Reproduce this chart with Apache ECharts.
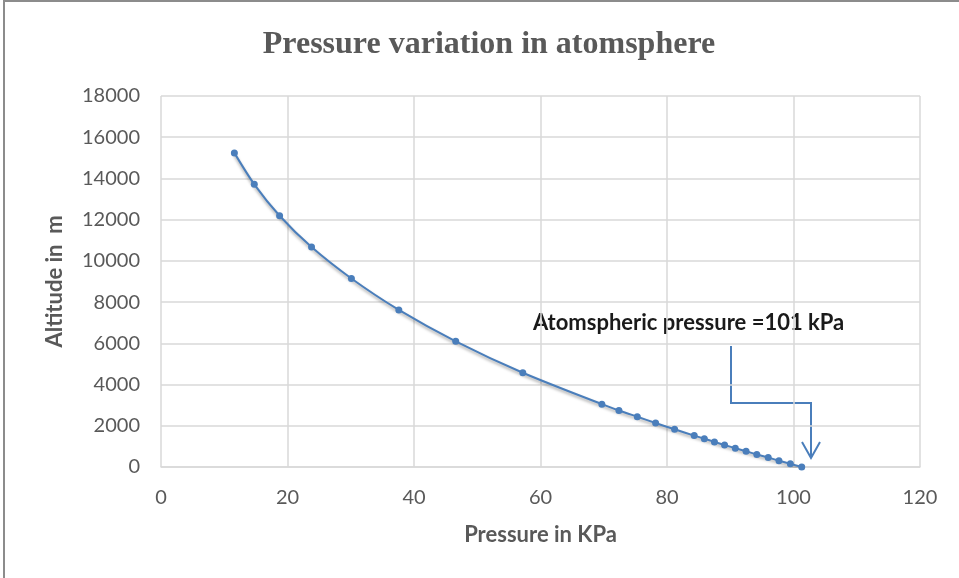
<!DOCTYPE html>
<html lang="en">
<head>
    <meta charset="UTF-8">
    <title>Pressure variation in atomsphere</title>
    <script src="https://cdn.jsdelivr.net/npm/echarts@6/dist/echarts.min.js"></script>
    <style>
        html, body { margin: 0; padding: 0; background: #fff; }
    </style>
</head>
<body>
<div id="chart" style="width: 959px;height:578px;"></div>
<script>
    // pressure (kPa) and altitude (m)
    const pressure = [11.6, 14.75, 18.75, 23.8, 30.1, 37.6, 46.6, 57.2, 69.7, 72.4, 75.3, 78.2,
        81.2, 84.3, 85.9, 87.5, 89.1, 90.8, 92.5, 94.2, 96.0, 97.7, 99.5, 101.3];
    const altitude = [15240, 13716, 12192, 10668, 9144, 7620, 6096, 4572, 3048, 2743, 2438, 2134,
        1829, 1524, 1372, 1219, 1067, 914, 762, 610, 457, 305, 152, 0];
    const xTicks = [0, 20, 40, 60, 80, 100, 120];
    const yTicks = [0, 2000, 4000, 6000, 8000, 10000, 12000, 14000, 16000, 18000];

    const blue = '#4a7ebb';
    const grey = '#595959';
    const font = 'Lato, "Open Sans", sans-serif';

    let myChart = echarts.init(document.getElementById('chart')),
        option = {
            animation: false,
            title: {
                text: 'Pressure variation in atomsphere',
                left: 484,
                textAlign: 'center',
                top: 24,
                textStyle: {
                    fontFamily: '"Liberation Serif", serif',
                    fontWeight: 'bold',
                    fontSize: 32,
                    color: grey
                }
            },
            grid: {left: 161, right: 39, top: 96, bottom: 111},
            xAxis: {
                type: 'value',
                min: xTicks[0],
                max: xTicks[xTicks.length - 1],
                interval: 20,
                name: 'Pressure in KPa',
                nameLocation: 'middle',
                nameGap: 57,
                nameTextStyle: {fontFamily: font, fontWeight: 'bold', fontSize: 22, color: grey},
                axisLine: {lineStyle: {color: '#d9d9d9', width: 1.5}},
                axisTick: {show: false},
                axisLabel: {margin: 21, fontFamily: font, fontSize: 20, color: grey},
                splitLine: {lineStyle: {color: '#d9d9d9', width: 1.5}}
            },
            yAxis: {
                type: 'value',
                min: yTicks[0],
                max: yTicks[yTicks.length - 1],
                interval: 2000,
                name: 'Altitude in  m',
                nameLocation: 'middle',
                nameGap: 95,
                nameTextStyle: {fontFamily: font, fontWeight: 'bold', fontSize: 22, color: grey},
                axisLine: {show: false},
                axisTick: {show: false},
                axisLabel: {margin: 21, fontFamily: font, fontSize: 20, color: grey, formatter: v => String(v)},
                splitLine: {lineStyle: {color: '#d9d9d9', width: 1.5}}
            },
            series: [{
                type: 'line',
                smooth: 0.3,
                data: pressure.map((p, i) => [p, altitude[i]]),
                symbol: 'circle',
                symbolSize: 7,
                itemStyle: {color: blue},
                lineStyle: {
                    color: blue,
                    width: 2,
                    shadowColor: 'rgba(0,0,0,0.35)',
                    shadowBlur: 3,
                    shadowOffsetY: 2
                }
            }],
            graphic: [
                {
                    type: 'rect',
                    shape: {x: 4, y: 1, width: 1000, height: 700},
                    style: {fill: null, stroke: '#8c8c8c', lineWidth: 2},
                    silent: true
                },
                {
                    type: 'text',
                    left: 533,
                    top: 312,
                    style: {
                        text: 'Atomspheric pressure =101 kPa',
                        font: 'bold 22px ' + font,
                        fill: '#1a1a1a'
                    }
                },
                {
                    type: 'polyline',
                    shape: {points: [[731, 346], [731, 403], [811, 403], [811, 457]]},
                    style: {stroke: blue, lineWidth: 2, fill: null}
                },
                {
                    type: 'polyline',
                    shape: {points: [[802, 442], [811, 458], [820, 442]]},
                    style: {stroke: blue, lineWidth: 2, fill: null}
                }
            ]
        };
    myChart.setOption(option);
</script>
</body>
</html>
